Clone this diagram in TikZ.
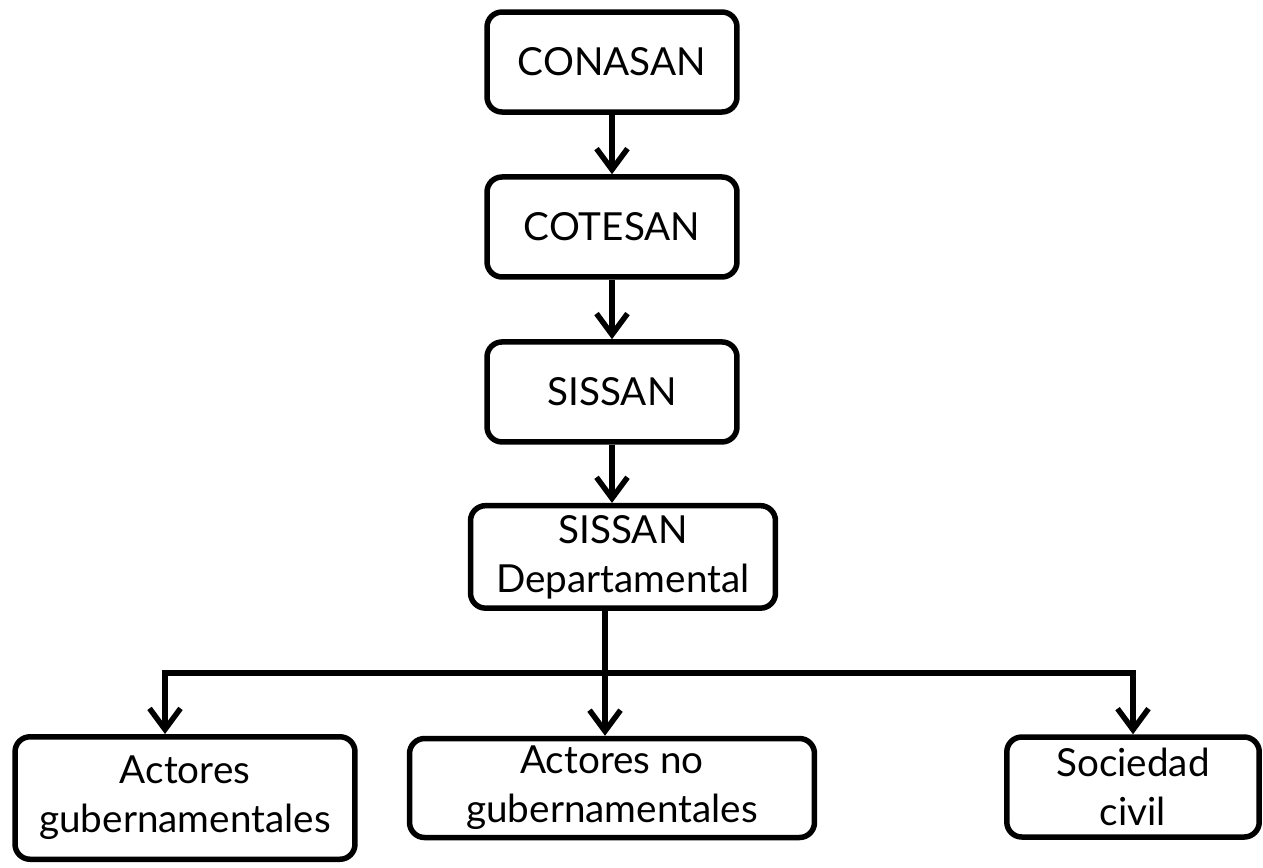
\documentclass[tikz,border=0pt]{standalone}
\usepackage{fontspec}
\setmainfont{Lato}
\usetikzlibrary{arrows.meta}

\begin{document}
\begin{tikzpicture}[
    x=0.02cm, y=-0.02cm,
    node distance=3.3cm,
    box/.style={draw, line width=0.11cm, rounded corners=0.3cm, align=center, inner sep=0pt, font=\fontsize{22}{28}\selectfont},
    link/.style={line width=0.11cm, -{Straight Barb[length=0.42cm, width=0.62cm]}}
]
\useasboundingbox (0,0) rectangle (1263,867);

\node[box, minimum width=5cm, minimum height=2cm] (conasan) at (612,62) {CONASAN};
\node[box, minimum width=5cm, minimum height=2cm, below of=conasan] (cotesan) {COTESAN};
\node[box, minimum width=5cm, minimum height=2cm, below of=cotesan] (sissan) {SISSAN};
\node[box, minimum width=6.1cm, minimum height=2.05cm, below of=sissan, xshift=0.22cm] (dep) {SISSAN\\Departamental};

\node[box, minimum width=6.8cm, minimum height=2.45cm] (actgub) at (185,798) {Actores\\gubernamentales};
\node[box, minimum width=8.1cm, minimum height=1.98cm] (actno) at (612,788) {Actores no\\gubernamentales};
\node[box, minimum width=5.05cm, minimum height=2cm] (soc) at (1133,787) {Sociedad\\civil};

\draw[link] (conasan) -- (cotesan);
\draw[link] (cotesan) -- (sissan);
\draw[link] (sissan) -- (sissan |- dep.north);

\coordinate (split) at (605,673);
\draw[line width=0.11cm] (dep.south -| split) -- (split);
\draw[link] (split) -- (actno.north -| split);
\draw[link] (split) -| ([xshift=-0.4cm]actgub.north);
\draw[link] (split) -| (soc.north);

\end{tikzpicture}
\end{document}
